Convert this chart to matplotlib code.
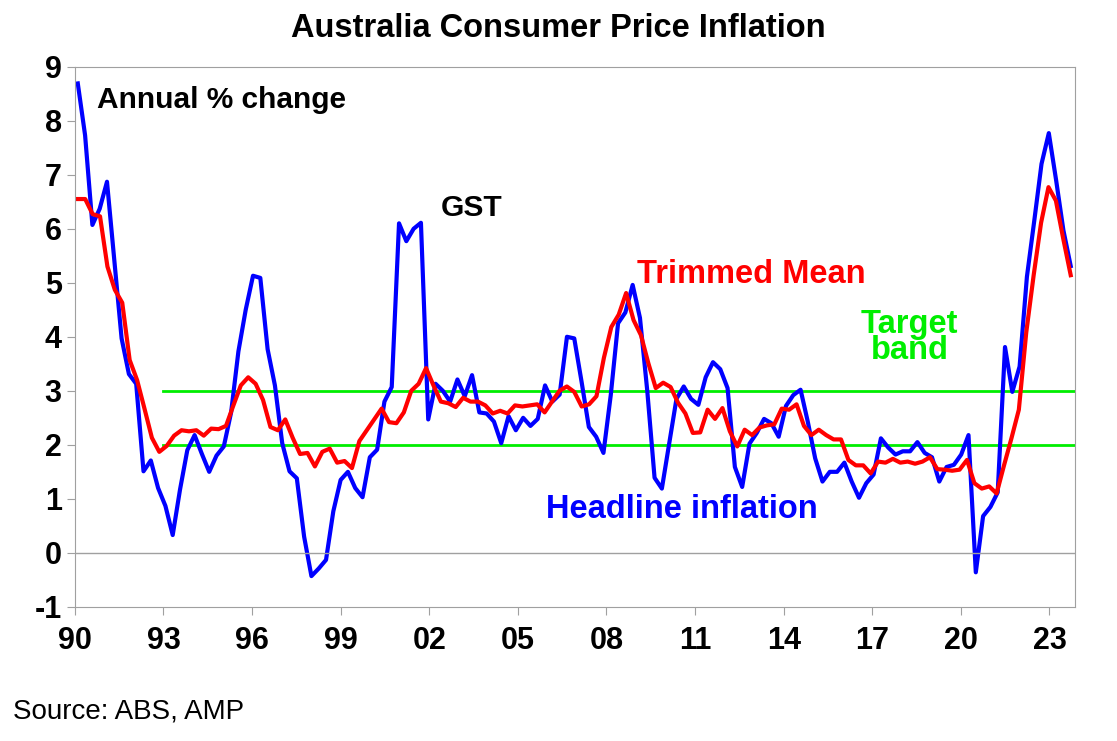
import numpy as np
import matplotlib.pyplot as plt

plt.rcParams['font.family'] = ['Liberation Sans', 'DejaVu Sans']
plt.rcParams['axes.unicode_minus'] = False

# quarterly annual % change
headline = [8.69, 7.73, 6.07, 6.37, 6.87, 5.43, 3.97, 3.31, 3.13, 1.51, 1.71, 1.2,
            0.87, 0.33, 1.17, 1.9, 2.18, 1.83, 1.5, 1.8, 1.97, 2.6, 3.73, 4.5,
            5.13, 5.09, 3.77, 3.1, 2.03, 1.51, 1.38, 0.3, -0.43, -0.29, -0.13, 0.77,
            1.35, 1.5, 1.2, 1.03, 1.77, 1.91, 2.8, 3.07, 6.1, 5.77, 6.0, 6.11,
            2.47, 3.13, 3.0, 2.8, 3.21, 2.9, 3.29, 2.6, 2.58, 2.43, 2.03, 2.53,
            2.27, 2.5, 2.35, 2.48, 3.1, 2.8, 2.93, 4.0, 3.97, 3.17, 2.33,
            2.15, 1.85, 2.92, 4.25, 4.45, 4.96, 4.35, 3.0, 1.39, 1.19, 2.02, 2.85,
            3.08, 2.85, 2.74, 3.25, 3.53, 3.4, 3.05, 1.59, 1.22, 2.02, 2.22, 2.48,
            2.4, 2.15, 2.72, 2.92, 3.02, 2.42, 1.75, 1.32, 1.5, 1.5, 1.67, 1.32,
            1.02, 1.29, 1.45, 2.12, 1.95, 1.82, 1.88, 1.88, 2.05, 1.85, 1.77, 1.32,
            1.59, 1.63, 1.82, 2.18, -0.36, 0.68, 0.85, 1.12, 3.81, 2.98, 3.45, 5.11,
            6.14, 7.2, 7.77, 6.9, 5.97, 5.31]
trimmed = [6.55, 6.55, 6.27, 6.23, 5.3, 4.87, 4.63, 3.57, 3.2, 2.67, 2.13, 1.87,
           1.98, 2.17, 2.27, 2.25, 2.27, 2.17, 2.3, 2.29, 2.35, 2.73, 3.1, 3.25,
           3.13, 2.83, 2.33, 2.27, 2.47, 2.13, 1.83, 1.85, 1.6, 1.87, 1.93, 1.67,
           1.7, 1.57, 2.07, 2.27, 2.47, 2.67, 2.42, 2.4, 2.6, 3.0, 3.13, 3.42,
           3.1, 2.8, 2.77, 2.7, 2.87, 2.8, 2.8, 2.73, 2.58, 2.63, 2.58, 2.73,
           2.71, 2.73, 2.75, 2.6, 2.8, 3.0, 3.08, 2.98, 2.71,
           2.75, 2.9, 3.61, 4.18, 4.41, 4.81, 4.31, 4.03, 3.51, 3.05, 3.15, 3.07,
           2.78, 2.58, 2.22, 2.23, 2.65, 2.48, 2.68, 2.25, 1.97, 2.28, 2.18, 2.32,
           2.36, 2.38, 2.67, 2.65, 2.75, 2.35, 2.18, 2.28, 2.18, 2.1, 2.1, 1.72,
           1.62, 1.62, 1.47, 1.69, 1.67, 1.74, 1.67, 1.69, 1.65, 1.69, 1.77, 1.55,
           1.54, 1.52, 1.54, 1.72, 1.29, 1.19, 1.23, 1.1, 1.62, 2.12, 2.65, 4.08,
           5.14, 6.11, 6.77, 6.52, 5.81, 5.14]
band_low, band_high = 2, 3
tick_years = np.arange(1990, 2024, 3)
tick_labels = [str(y)[2:] for y in tick_years]

t_head = np.linspace(1990.1, 2023.72, len(headline))
t_trim = np.linspace(1990.1, 2023.72, len(trimmed))

fig = plt.figure(figsize=(11.17, 7.41), dpi=100)
ax = fig.add_axes([0.067, 0.181, 0.895, 0.729])

ax.plot([1993, 2023.85], [band_high, band_high], color='#00ee00', lw=2)
ax.plot([1993, 2023.85], [band_low, band_low], color='#00ee00', lw=2)
ax.plot(t_head, headline, color='#0000ff', lw=3)
ax.plot(t_trim, trimmed, color='#ff0000', lw=3)
ax.axhline(0, color='#a0a0a0', lw=1)

ax.set_xlim(1990, 2023.85)
ax.set_ylim(-1, 9)
ax.set_xticks(tick_years)
ax.set_xticklabels(tick_labels)
ax.set_yticks(range(-1, 10))
for s in ax.spines.values():
    s.set_color('#a0a0a0')
ax.tick_params(colors='#a0a0a0', labelcolor='black', labelsize=22, length=6, direction='out')
ax.tick_params(axis='x', pad=8)
for lab in ax.get_xticklabels() + ax.get_yticklabels():
    lab.set_fontweight('bold')

ax.text(1990.75, 8.39, 'Annual % change', fontsize=21.5, fontweight='bold', va='center')
ax.text(2002.4, 6.39, 'GST', fontsize=21.5, fontweight='bold', va='center')
ax.text(2009.03, 5.15, 'Trimmed Mean', fontsize=23.5, fontweight='bold', va='center', color='#ff0000')
ax.text(2018.27, 3.98, 'Target\nband', fontsize=23.5, fontweight='bold', va='center', ha='center',
        color='#00ee00', linespacing=0.8)
ax.text(2005.97, 0.8, 'Headline inflation', fontsize=23.5, fontweight='bold', va='center', color='#0000ff')

fig.text(0.5, 0.962, 'Australia Consumer Price Inflation', fontsize=23.5, fontweight='bold',
         ha='center', va='center')
fig.text(0.012, 0.04, 'Source: ABS, AMP', fontsize=20, va='center')

fig.savefig('out.png', dpi=100)
